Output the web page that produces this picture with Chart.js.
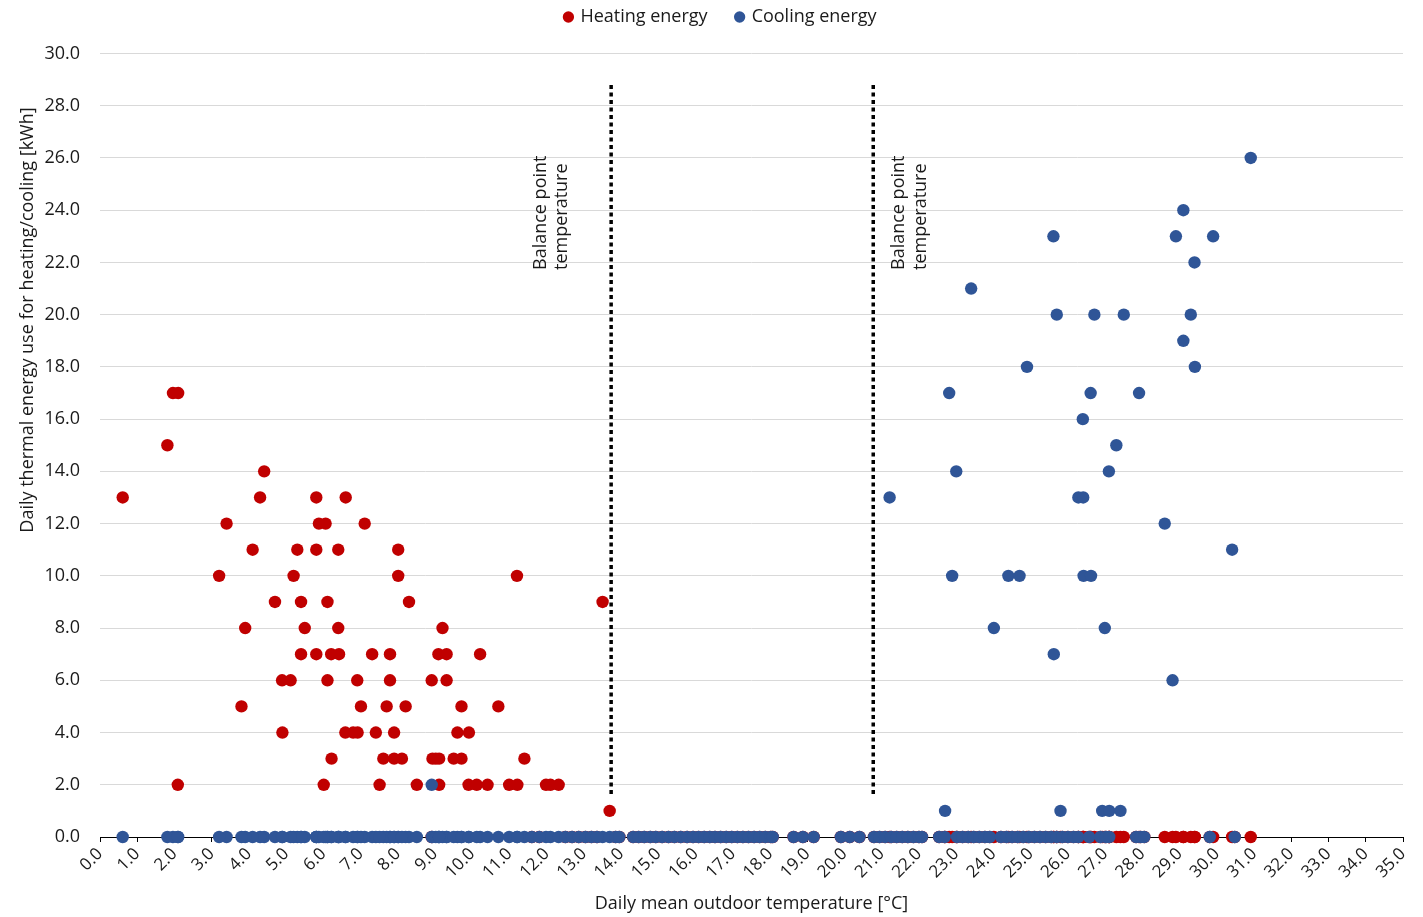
<!DOCTYPE html>
<html>
<head>
<meta charset="utf-8">
<script src="https://cdn.jsdelivr.net/npm/chart.js@4.4.1/dist/chart.umd.min.js"></script>
<style>
html,body{margin:0;padding:0;background:#ffffff;}
#wrap{width:1423px;height:917px;position:relative;}
</style>
</head>
<body>
<div id="wrap"><canvas id="c" width="1423" height="917"></canvas></div>
<script>
// ---------- DATA ----------
const seriesNames = ['Heating energy', 'Cooling energy'];

// days with heating demand > 0 : temperature [°C] and heating energy [kWh]
const heatingX = [1.96, 2.10, 1.81, 4.41, 0.61, 4.30, 5.81, 6.60, 3.40, 5.88, 6.06, 7.11,
  4.10, 5.30, 5.81, 6.40, 8.01, 3.20, 5.20, 8.01, 11.20, 4.70, 5.40, 6.11, 8.30, 13.50,
  3.90, 5.50, 6.40, 9.20, 5.40, 5.81, 6.21, 6.42, 7.31, 7.79, 9.09, 9.31, 10.21,
  4.89, 5.12, 6.11, 6.91, 7.79, 8.91, 9.31, 3.80, 7.01, 7.70, 8.21, 9.71, 10.70,
  4.90, 6.59, 6.80, 6.92, 7.41, 7.90, 9.60, 9.91,
  6.22, 7.61, 7.90, 8.11, 8.93, 9.02, 9.11, 9.50, 9.71, 11.40,
  2.09, 6.01, 7.51, 8.51, 9.11, 9.90, 10.12, 10.41, 10.99, 11.21, 11.98, 12.10, 12.32,
  13.69];
const heatingY = [17, 17, 15, 14, 13, 13, 13, 13, 12, 12, 12, 12,
  11, 11, 11, 11, 11, 10, 10, 10, 10, 9, 9, 9, 9, 9,
  8, 8, 8, 8, 7, 7, 7, 7, 7, 7, 7, 7, 7,
  6, 6, 6, 6, 6, 6, 6, 5, 5, 5, 5, 5, 5,
  4, 4, 4, 4, 4, 4, 4, 4,
  3, 3, 3, 3, 3, 3, 3, 3, 3, 3,
  2, 2, 2, 2, 2, 2, 2, 2, 2, 2, 2, 2, 2,
  1];

// days with cooling demand > 0 : temperature [°C] and cooling energy [kWh]
const coolingX = [30.91, 29.10, 25.61, 28.90, 29.90, 29.40, 23.40, 25.70, 26.71, 27.50, 29.30,
  29.10, 24.90, 29.41, 22.81, 26.61, 27.91, 26.40, 27.30, 23.00, 27.10, 21.21, 26.28, 26.41,
  28.60, 30.41, 22.89, 24.40, 24.70, 26.42, 26.62, 24.01, 26.99, 25.62, 28.81, 8.91,
  22.70, 25.80, 26.92, 27.11, 27.41];
const coolingY = [26, 24, 23, 23, 23, 22, 21, 20, 20, 20, 20,
  19, 18, 18, 17, 17, 17, 16, 15, 14, 14, 13, 13, 13,
  12, 11, 10, 10, 10, 10, 10, 8, 8, 7, 6, 2,
  1, 1, 1, 1, 1];

// days with neither heating nor cooling demand : temperature [°C]
const neutralDaysX = [11.60, 11.80, 12.50, 12.68, 12.86, 13.04, 13.20, 13.35, 13.85, 13.95,
  14.32, 14.47, 14.62, 14.78, 14.93, 15.10, 15.27, 15.43, 15.60, 15.77, 15.93,
  16.08, 16.23, 16.38, 16.52, 16.67, 16.82, 16.97, 17.12, 17.27, 17.42, 17.57, 17.72, 17.87, 18.02, 18.07,
  18.63, 18.88, 19.17, 19.90, 20.14, 20.40,
  20.79, 20.94, 21.09, 21.25, 21.40, 21.55, 21.70, 21.85, 22.00, 22.08,
  22.54, 22.69, 23.02, 23.17, 23.32, 23.47, 23.62, 23.77, 23.90, 24.20, 24.35, 24.50, 24.65,
  24.80, 24.95, 25.10, 25.25, 25.40, 25.55, 25.70, 25.85, 26.00, 26.15, 26.28, 26.57, 26.87,
  27.02, 27.11, 27.83, 27.95, 28.05, 29.81, 30.48];

// balance point temperatures [°C] and the vertical extent of their marker lines [kWh]
const balanceTemps = [13.73, 20.77];
const balanceSpan = [1.65, 28.85];
const balanceLabelLines = ['Balance point', 'temperature'];

const xTitle = 'Daily mean outdoor temperature [°C]';
const yTitle = 'Daily thermal energy use for heating/cooling [kWh]';

// ---------- BUILD ----------
const FONT = "'Open Sans', 'Noto Sans', sans-serif";
const TXT = '#1a1a1a';

const toPts = (xs, ys) => xs.map((x, i) => ({x: x, y: ys[i]}));
const zeros = xs => xs.map(x => ({x: x, y: 0}));

const heatingData = toPts(heatingX, heatingY).concat(zeros(coolingX), zeros(neutralDaysX));
const coolingData = toPts(coolingX, coolingY).concat(zeros(heatingX), zeros(neutralDaysX));

const balanceSets = balanceTemps.map((t, i) => ({
  label: 'bp' + i,
  data: [{x: t, y: balanceSpan[0]}, {x: t, y: balanceSpan[1]}],
  showLine: true,
  pointRadius: 0,
  borderColor: '#000000',
  borderWidth: 3.5,
  borderDash: [4, 3.5],
  borderCapStyle: 'butt',
  order: 0
}));

const extrasPlugin = {
  id: 'extras',
  afterDraw(chart, args, opts) {
    const ctx = chart.ctx;
    const xs = chart.scales.x;
    ctx.save();
    ctx.fillStyle = TXT;
    ctx.font = '18px ' + FONT;
    ctx.textBaseline = 'middle';
    // y axis title
    ctx.save();
    ctx.translate(opts.yTitleX, opts.yTitleY);
    ctx.rotate(-Math.PI / 2);
    ctx.textAlign = 'center';
    ctx.fillText(yTitle, 0, 0);
    ctx.restore();
    // balance point labels
    balanceTemps.forEach((t, i) => {
      const px = xs.getPixelForValue(t);
      const offs = opts.labelOffsets[i];
      balanceLabelLines.forEach((line, j) => {
        ctx.save();
        ctx.translate(px + offs[j], opts.labelStartY);
        ctx.rotate(-Math.PI / 2);
        ctx.textAlign = 'left';
        ctx.fillText(line, 0, 0);
        ctx.restore();
      });
    });
    ctx.restore();
  }
};

new Chart(document.getElementById('c'), {
  type: 'scatter',
  data: {
    datasets: [
      {label: seriesNames[0], data: heatingData, backgroundColor: '#C00000', borderColor: '#C00000',
        borderWidth: 0, pointRadius: 6.2, pointHoverRadius: 6.2, order: 2, clip: false},
      {label: seriesNames[1], data: coolingData, backgroundColor: '#2F5597', borderColor: '#2F5597',
        borderWidth: 0, pointRadius: 6.2, pointHoverRadius: 6.2, order: 1, clip: false}
    ].concat(balanceSets)
  },
  options: {
    responsive: false,
    animation: false,
    events: [],
    layout: {padding: {left: 39, right: 20, top: -21, bottom: 0}},
    scales: {
      x: {
        type: 'linear', min: 0, max: 35,
        ticks: {stepSize: 1, autoSkip: false, maxRotation: 45, minRotation: 45, padding: 2,
          color: TXT, font: {family: FONT, size: 17}, callback: v => v.toFixed(1)},
        grid: {display: true, drawOnChartArea: false, drawTicks: true, tickLength: 5,
          color: '#000000', tickColor: '#000000', lineWidth: 1},
        border: {display: true, color: '#000000', width: 1},
        title: {display: true, text: xTitle, color: TXT, font: {family: FONT, size: 18},
          padding: {top: 0, bottom: 2}},
        afterFit: s => { s.height = 80; }
      },
      y: {
        min: 0, max: 30,
        ticks: {stepSize: 2, padding: 20, color: TXT, font: {family: FONT, size: 18},
          callback: v => v.toFixed(1)},
        grid: {color: '#d9d9d9', lineWidth: 1, drawTicks: false},
        border: {display: false},
        afterFit: s => { s.width = 61; }
      }
    },
    plugins: {
      legend: {
        display: true, position: 'top', align: 'center',
        labels: {
          usePointStyle: true, pointStyle: 'circle', boxWidth: 6, boxHeight: 8,
          padding: 29, color: TXT, font: {family: FONT, size: 18},
          filter: item => item.datasetIndex < 2,
          sort: (a, b) => a.datasetIndex - b.datasetIndex
        }
      },
      title: {display: true, text: '', weight: 500, font: {size: 1}, padding: {top: 16.3, bottom: 0}},
      tooltip: {enabled: false},
      extras: {yTitleX: 28, yTitleY: 320, labelStartY: 270, labelOffsets: [[-70.5, -49.5], [26, 47.5]]}
    }
  },
  plugins: [extrasPlugin]
});
</script>
</body>
</html>
